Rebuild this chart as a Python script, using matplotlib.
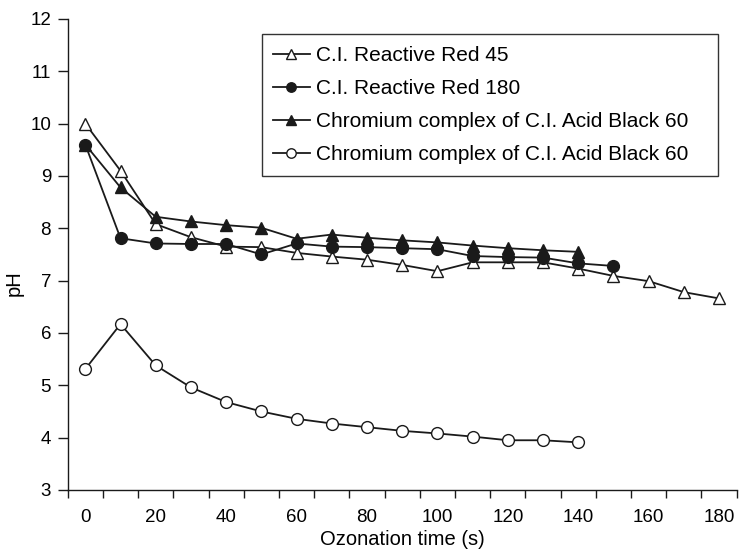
import matplotlib.pyplot as plt
import numpy as np

plt.rcParams['font.family'] = ['Liberation Sans', 'DejaVu Sans']

# ozonation time (s)
t_red45 = [0, 10, 20, 30, 40, 50, 60, 70, 80, 90, 100, 110, 120, 130, 140, 150, 160, 170, 180]
t_red180 = [0, 10, 20, 30, 40, 50, 60, 70, 80, 90, 100, 110, 120, 130, 140, 150]
t_black = [0, 10, 20, 30, 40, 50, 60, 70, 80, 90, 100, 110, 120, 130, 140]

# pH values
ph_red45 = [10.0, 9.1, 8.08, 7.83, 7.65, 7.64, 7.53, 7.46, 7.4, 7.3, 7.18, 7.35, 7.35, 7.35, 7.23, 7.09, 6.99, 6.78, 6.66]
ph_red180 = [9.6, 7.81, 7.71, 7.7, 7.7, 7.5, 7.71, 7.65, 7.64, 7.62, 7.6, 7.47, 7.45, 7.44, 7.33, 7.28]
ph_black_a = [9.6, 8.78, 8.22, 8.13, 8.06, 8.01, 7.8, 7.88, 7.82, 7.77, 7.73, 7.67, 7.62, 7.58, 7.55]
ph_black_b = [5.31, 6.17, 5.38, 4.96, 4.68, 4.5, 4.36, 4.27, 4.2, 4.13, 4.08, 4.02, 3.95, 3.95, 3.91]

labels = ['C.I. Reactive Red 45', 'C.I. Reactive Red 180',
          'Chromium complex of C.I. Acid Black 60', 'Chromium complex of C.I. Acid Black 60']

fig = plt.figure(figsize=(7.39, 5.49), dpi=100)
ax = fig.add_axes([0.0916, 0.1075, 0.9053, 0.858])

k = '#1a1a1a'
lw = 1.3
ax.plot(t_red45, ph_red45, color=k, lw=lw, marker='^', ms=8.5, mfc='white', mec=k, mew=1.0, label=labels[0], zorder=3)
ax.plot(t_red180, ph_red180, color=k, lw=lw, marker='o', ms=8.5, mfc=k, mec=k, label=labels[1], zorder=4)
ax.plot(t_black, ph_black_a, color=k, lw=lw, marker='^', ms=8.5, mfc=k, mec=k, label=labels[2], zorder=3)
ax.plot(t_black, ph_black_b, color=k, lw=lw, marker='o', ms=8.5, mfc='white', mec=k, mew=1.0, label=labels[3], zorder=3)

ax.set_xlim(-5, 185)
ax.set_ylim(3, 12)
ax.set_yticks(np.arange(3, 13, 1))
ax.set_xticks(np.arange(0, 181, 20))
ax.set_xticks(np.arange(-5, 186, 10), minor=True)

ax.spines['right'].set_visible(False)
ax.spines['top'].set_visible(False)
for s in ['left', 'bottom']:
    ax.spines[s].set_linewidth(1.0)
    ax.spines[s].set_color(k)

ax.tick_params(axis='x', which='major', length=0, pad=14, labelsize=13.5)
ax.tick_params(axis='x', which='minor', length=6, width=1.0, color=k)
ax.tick_params(axis='y', which='major', length=7, width=1.0, color=k, pad=5, labelsize=13.5)

ax.set_xlabel('Ozonation time (s)', fontsize=14.5)
ax.set_ylabel('pH', fontsize=14.5)
ax.xaxis.set_label_coords(0.5, -0.086)
ax.yaxis.set_label_coords(-0.066, 0.44)

leg = ax.legend(loc='upper left', bbox_to_anchor=(0.29, 0.0, 0.6825, 0.967), mode='expand',
                fontsize=15, frameon=True, fancybox=False, edgecolor='#333333', framealpha=1,
                handlelength=1.75, handletextpad=0.3, borderpad=0.55,
                labelspacing=0.68, markerscale=0.8, borderaxespad=0)
leg.get_frame().set_linewidth(1.0)

plt.savefig('out.png', dpi=100)
